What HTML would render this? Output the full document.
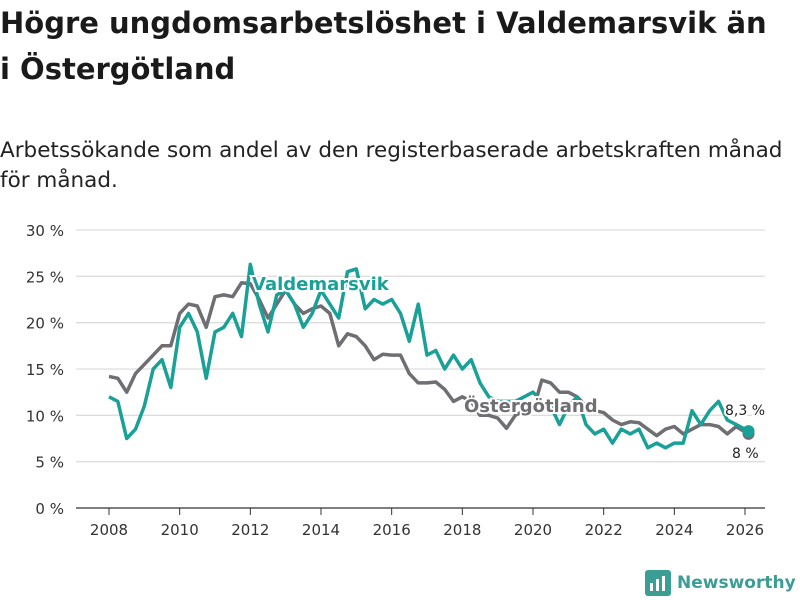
<!DOCTYPE html>
<html><head><meta charset="utf-8"><style>
body{margin:0;width:800px;height:600px;background:#fff;font-family:"Liberation Sans","DejaVu Sans",sans-serif;overflow:hidden;position:relative}
h1{position:absolute;left:0;top:0;margin:0;font-size:29px;line-height:46px;font-weight:bold;color:#1a1a1a;width:800px;font-family:"DejaVu Sans",sans-serif;letter-spacing:0;white-space:nowrap}
.sub{position:absolute;left:0;top:136px;font-size:21.5px;line-height:30px;color:#222;font-family:"DejaVu Sans",sans-serif;white-space:nowrap}
svg{position:absolute;left:0;top:0}
</style></head><body>
<h1>Högre ungdomsarbetslöshet i Valdemarsvik än<br>i Östergötland</h1>
<div class="sub">Arbetssökande som andel av den registerbaserade arbetskraften månad<br>för månad.</div>
<svg id="c" width="800" height="600"></svg>
<script>
const years=[2008,2008.25,2008.5,2008.75,2009,2009.25,2009.5,2009.75,2010,2010.25,2010.5,2010.75,2011,2011.25,2011.5,2011.75,2012,2012.25,2012.5,2012.75,2013,2013.25,2013.5,2013.75,2014,2014.25,2014.5,2014.75,2015,2015.25,2015.5,2015.75,2016,2016.25,2016.5,2016.75,2017,2017.25,2017.5,2017.75,2018,2018.25,2018.5,2018.75,2019,2019.25,2019.5,2019.75,2020,2020.25,2020.5,2020.75,2021,2021.25,2021.5,2021.75,2022,2022.25,2022.5,2022.75,2023,2023.25,2023.5,2023.75,2024,2024.25,2024.5,2024.75,2025,2025.25,2025.5,2025.75,2026,2026.1];
const ostergotland=[14.2,14,12.5,14.5,15.5,16.5,17.5,17.5,21,22,21.8,19.5,22.8,23,22.8,24.3,24.2,22.5,20.5,22,23.5,22,21,21.5,21.8,21,17.5,18.8,18.5,17.5,16,16.6,16.5,16.5,14.5,13.5,13.5,13.6,12.8,11.5,12,11.5,10,10,9.7,8.6,10,10.5,10.5,13.8,13.5,12.5,12.5,12,11,10.5,10.3,9.5,9,9.3,9.2,8.5,7.8,8.5,8.8,8,8.5,9,9,8.8,8,8.8,8.2,8];
const valdemarsvik=[12,11.5,7.5,8.5,11,15,16,13,19.5,21,19,14,19,19.5,21,18.5,26.3,22,19,23,23.5,22,19.5,21,23.5,22,20.5,25.5,25.8,21.5,22.5,22,22.5,21,18,22,16.5,17,15,16.5,15,16,13.5,12,11.5,11.5,11.5,12,12.5,11.5,11,9,11,12,9,8,8.5,7,8.5,8,8.5,6.5,7,6.5,7,7,10.5,9,10.5,11.5,9.5,9,8.5,8.3];
const yTicks=[0,5,10,15,20,25,30];
const xTicks=[2008,2010,2012,2014,2016,2018,2020,2022,2024,2026];
const svg=document.getElementById('c');const NS='http://www.w3.org/2000/svg';
const X=v=>109+(v-2008)*(745-109)/18, Y=v=>508-v*(508-230)/30;
function mk(t,a,p){const e=document.createElementNS(NS,t);for(const k in a)e.setAttribute(k,a[k]);(p||svg).appendChild(e);return e;}
yTicks.forEach(t=>{
 const l=mk('line',{x1:76,x2:765,y1:Y(t),y2:Y(t),stroke:t===0?'#333':'#ddd','stroke-width':1.3});
 
 
 const tx=mk('text',{x:64,y:Y(t)+6,'text-anchor':'end','font-size':15,fill:'#333','font-family':'DejaVu Sans, sans-serif'});tx.textContent=t+' %';
 
 
});
xTicks.forEach(t=>{
 const l=mk('line',{x1:X(t),x2:X(t),y1:508,y2:515,stroke:'#333'});
 
 
 const tx=mk('text',{x:X(t),y:535,'text-anchor':'middle','font-size':15,fill:'#333','font-family':'DejaVu Sans, sans-serif'});tx.textContent=t;
 
 
});
function line(d,c,n){const p=mk('path',{d:d.map((v,i)=>(i?'L':'M')+X(years[i]).toFixed(1)+','+Y(v).toFixed(1)).join(''),fill:'none',stroke:c,'stroke-width':3.5,'stroke-linejoin':'round'});
 
 
 const L=d.length-1;const cc=mk('circle',{cx:X(years[L]),cy:Y(d[L]),r:6,fill:c});
 
 }
line(ostergotland,'#6e6e73','ostergotland-line');
line(valdemarsvik,'#1aa197','valdemarsvik-line');
function lab(x,y,s,c,n,sz,w){
 const t=mk('text',{x:x,y:y,'font-size':sz,'font-weight':w,fill:c,stroke:'#fff','stroke-width':4,'paint-order':'stroke','font-family':'DejaVu Sans, sans-serif'});t.textContent=s;
 
 }
lab(252,290,'Valdemarsvik','#1aa197','valdemarsvik-label',18,'bold');
lab(464,412,'Östergötland','#6e6e73','ostergotland-label',18,'bold');
lab(725,415,'8,3 %','#222','valdemarsvik-end-value',14,'normal');
lab(732,458,'8 %','#222','ostergotland-end-value',14,'normal');
</script>
<div style="position:absolute;left:645px;top:570px;display:flex;align-items:center;gap:6px">
<svg width="26" height="26" viewBox="0 0 26 26" style="position:static"><rect width="26" height="26" rx="3" fill="#3b9e95"/><rect x="5" y="13" width="3" height="8" fill="#fff"/><rect x="11" y="9" width="3" height="12" fill="#fff"/><rect x="17" y="6" width="3" height="15" fill="#fff"/></svg>
<span style="font-size:17px;font-weight:bold;color:#3b9e95;font-family:'DejaVu Sans',sans-serif">Newsworthy</span></div>
</body></html>
